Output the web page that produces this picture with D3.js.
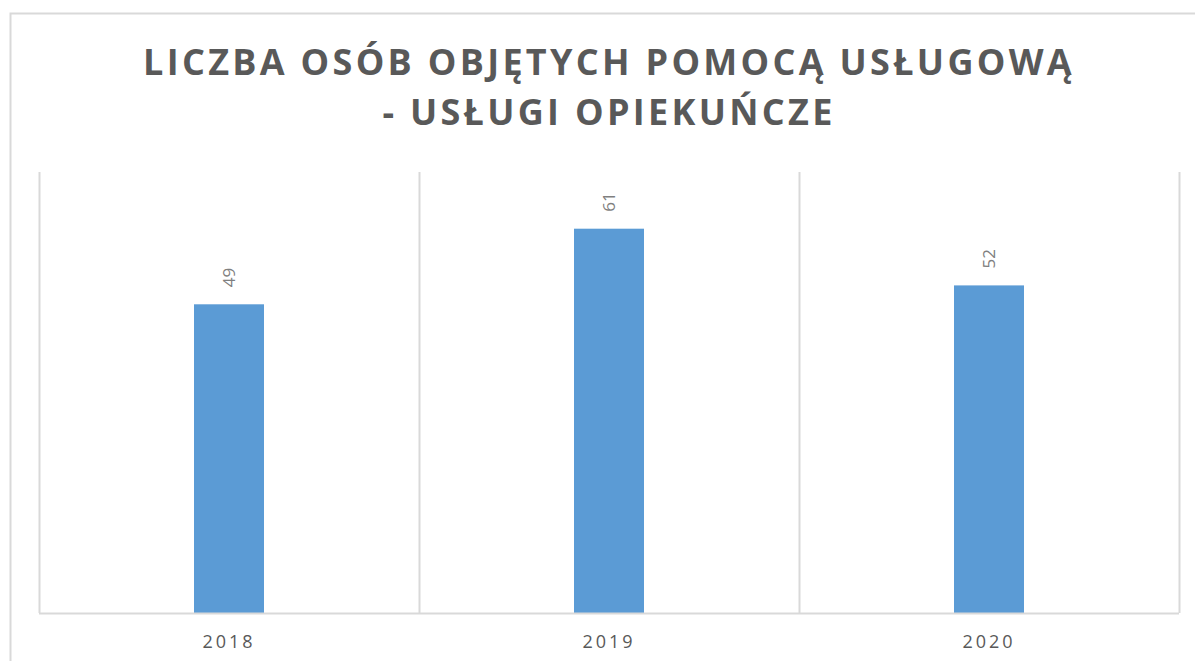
<!DOCTYPE html>
<html>
<head>
<meta charset="utf-8">
<script src="https://cdn.jsdelivr.net/npm/d3@7"></script>
<style>
  body { margin: 0; background: #fff; }
  svg { display: block; }
</style>
</head>
<body>
<script>
// chart data
var titleLines = ["LICZBA OSÓB OBJĘTYCH POMOCĄ USŁUGOWĄ", "- USŁUGI OPIEKUŃCZE"];
var years = ["2018", "2019", "2020"];
var people = [49, 61, 52];
var yMax = 70;

var W = 1195, H = 661;
var plot = {left: 39, right: 1179, top: 172, bottom: 613};

var svg = d3.select("body").append("svg")
  .attr("width", W)
  .attr("height", H);

// outer chart border (runs off the right and bottom)
svg.append("path")
  .attr("d", "M10.5," + H + "V13.5H" + W)
  .attr("fill", "none")
  .attr("stroke", "#d9d9d9")
  .attr("stroke-width", 2);

// title
svg.append("g").selectAll("text")
  .data(titleLines)
  .enter().append("text")
  .attr("x", 609)
  .attr("y", function(d, i) { return 75 + i * 50; })
  .attr("text-anchor", "middle")
  .attr("font-family", "'Open Sans', sans-serif")
  .attr("font-weight", "bold")
  .attr("font-size", 36)
  .attr("letter-spacing", 3.3)
  .attr("fill", "#595959")
  .text(function(d) { return d; });

var x = d3.scaleBand().domain(years).range([plot.left, plot.right]).paddingInner(0).paddingOuter(0);
var y = d3.scaleLinear().domain([0, yMax]).range([plot.bottom, plot.top]);

// vertical category separators
var edges = years.map(function(d) { return x(d); }).concat([x(years[years.length - 1]) + x.bandwidth()]);
svg.append("g").selectAll("line")
  .data(edges)
  .enter().append("line")
  .attr("x1", function(d) { return Math.round(d) + 0.5; })
  .attr("x2", function(d) { return Math.round(d) + 0.5; })
  .attr("y1", y(yMax))
  .attr("y2", y(0))
  .attr("stroke", "#d9d9d9")
  .attr("stroke-width", 2);

// bars
var barW = 70;
svg.append("g").selectAll("rect")
  .data(people)
  .enter().append("rect")
  .attr("x", function(d, i) { return x(years[i]) + x.bandwidth() / 2 - barW / 2; })
  .attr("y", function(d) { return y(d); })
  .attr("width", barW)
  .attr("height", function(d) { return y(0) - y(d); })
  .attr("fill", "#5b9bd5");

// baseline
svg.append("line")
  .attr("x1", plot.left).attr("x2", plot.right)
  .attr("y1", y(0) + 0.5).attr("y2", y(0) + 0.5)
  .attr("stroke", "#d9d9d9")
  .attr("stroke-width", 2);

// value labels, rotated
svg.append("g").selectAll("text")
  .data(people)
  .enter().append("text")
  .attr("transform", function(d, i) {
    var cx = x(years[i]) + x.bandwidth() / 2;
    return "translate(" + cx + "," + (y(d) - 17) + ") rotate(-90)";
  })
  .attr("dy", "0.35em")
  .attr("font-family", "'Open Sans', sans-serif")
  .attr("font-size", 17)
  .attr("fill", "#7f7f7f")
  .text(function(d) { return d; });

// category labels
svg.append("g").selectAll("text")
  .data(years)
  .enter().append("text")
  .attr("x", function(d) { return x(d) + x.bandwidth() / 2; })
  .attr("y", 648)
  .attr("text-anchor", "middle")
  .attr("font-family", "'Open Sans', sans-serif")
  .attr("font-size", 18)
  .attr("letter-spacing", 3)
  .attr("fill", "#595959")
  .text(function(d) { return d; });
</script>
</body>
</html>
